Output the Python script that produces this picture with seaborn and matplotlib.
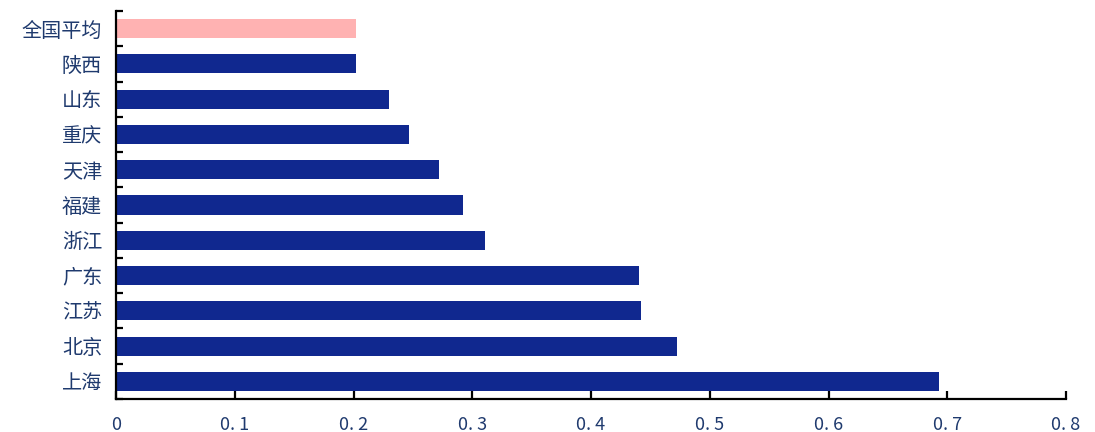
import matplotlib
matplotlib.use("Agg")
import matplotlib.pyplot as plt
import seaborn as sns
import pandas as pd
from matplotlib.ticker import FixedLocator

categories = ["全国平均", "陕西", "山东", "重庆", "天津", "福建", "浙江", "广东", "江苏", "北京", "上海"]
values = [0.202, 0.202, 0.230, 0.247, 0.272, 0.292, 0.311, 0.440, 0.442, 0.472, 0.693]
xticks = [0, 0.1, 0.2, 0.3, 0.4, 0.5, 0.6, 0.7, 0.8]
xticklabels = ["0", "0. 1", "0. 2", "0. 3", "0. 4", "0. 5", "0. 6", "0. 7", "0. 8"]

sns.set_style("white")
plt.rcParams['font.family'] = ['Noto Sans CJK SC', 'DejaVu Sans']

navy = "#10288F"
pink = "#FFB2B2"
text_color = "#1F3A6E"

df = pd.DataFrame({"region": categories, "value": values})
palette = {c: (pink if c == "全国平均" else navy) for c in categories}

fig = plt.figure(figsize=(10.95, 4.32), dpi=100)
ax = fig.add_axes([116/1095, 33/432, 950/1095, 388/432])
sns.barplot(data=df, x="value", y="region", hue="region", palette=palette,
            order=categories, width=0.54, legend=False, ax=ax, saturation=1,
            edgecolor="none", linewidth=0)

ax.set_xlim(0, 0.8)
ax.set_ylim(len(categories) - 0.5, -0.5)
ax.set_xlabel("")
ax.set_ylabel("")
ax.xaxis.set_major_locator(FixedLocator(xticks))
ax.set_xticklabels(xticklabels)
ax.tick_params(axis="x", bottom=True, direction="in", length=6, width=1.6, color="black",
               labelcolor=text_color, labelsize=13, pad=12)
ax.tick_params(axis="y", which="major", left=False, length=0, labelcolor=text_color, labelsize=14.5, pad=10)
ax.yaxis.set_minor_locator(FixedLocator([i - 0.5 for i in range(len(categories) + 1)]))
ax.tick_params(axis="y", which="minor", left=True, direction="in", length=5, width=1.6, color="black")

for s in ["top", "right"]:
    ax.spines[s].set_visible(False)
for s in ["left", "bottom"]:
    ax.spines[s].set_visible(True)
    ax.spines[s].set_color("black")
    ax.spines[s].set_linewidth(1.6)

fig.savefig("out.png", dpi=100)
